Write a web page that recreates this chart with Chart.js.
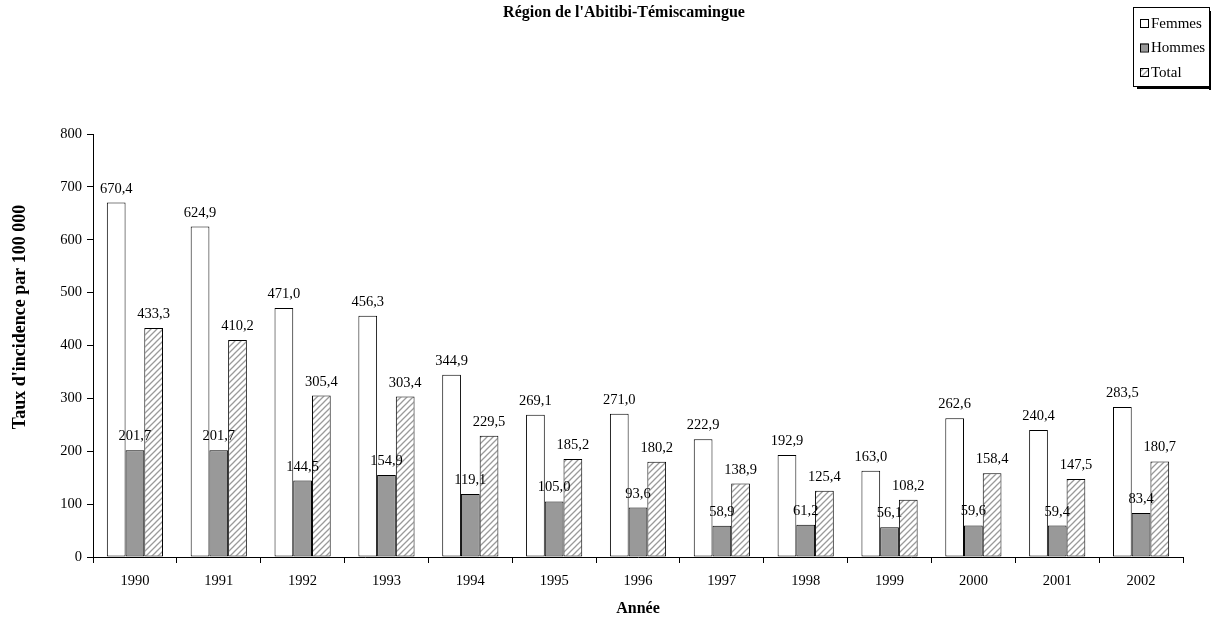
<!DOCTYPE html>
<html>
<head>
<meta charset="utf-8">
<script src="https://cdn.jsdelivr.net/npm/chart.js@4"></script>
<style>
  body { margin: 0; background: #fff; }
  #wrap { width: 1211px; height: 618px; }
</style>
</head>
<body>
<div id="wrap"><canvas id="incChart"></canvas></div>
<script>
const years = ["1990", "1991", "1992", "1993", "1994", "1995", "1996", "1997", "1998", "1999", "2000", "2001", "2002"];
const femmes = [670.4, 624.9, 471.0, 456.3, 344.9, 269.1, 271.0, 222.9, 192.9, 163.0, 262.6, 240.4, 283.5];
const hommes = [201.7, 201.7, 144.5, 154.9, 119.1, 105.0, 93.6, 58.9, 61.2, 56.1, 59.6, 59.4, 83.4];
const total = [433.3, 410.2, 305.4, 303.4, 229.5, 185.2, 180.2, 138.9, 125.4, 108.2, 158.4, 147.5, 180.7];
const yTicks = [0, 100, 200, 300, 400, 500, 600, 700, 800];

const serif = "'Liberation Serif', 'Times New Roman', serif";

// hatch pattern for Total
function makeHatch() {
  const c = document.createElement("canvas");
  c.width = 6; c.height = 6;
  const g = c.getContext("2d");
  g.fillStyle = "#fff";
  g.fillRect(0, 0, 6, 6);
  g.strokeStyle = "#9a9a9a";
  g.lineWidth = 1.3;
  g.beginPath();
  g.moveTo(0, 6); g.lineTo(6, 0);
  g.moveTo(-1, 1); g.lineTo(1, -1);
  g.moveTo(5, 7); g.lineTo(7, 5);
  g.stroke();
  return g.createPattern(c, "repeat");
}
const hatch = makeHatch();

const fmt = v => v.toFixed(1).replace(".", ",");

const valueLabels = {
  id: "valueLabels",
  afterDatasetsDraw(chart) {
    const ctx = chart.ctx;
    ctx.save();
    ctx.font = "14.5px " + serif;
    ctx.fillStyle = "#000";
    ctx.textAlign = "center";
    ctx.textBaseline = "alphabetic";
    chart.data.datasets.forEach((ds, i) => {
      chart.getDatasetMeta(i).data.forEach((bar, j) => {
        ctx.fillText(fmt(ds.data[j]), bar.x, bar.y - 10);
      });
    });
    ctx.restore();
  }
};

const extras = {
  id: "extras",
  afterDraw(chart) {
    const ctx = chart.ctx;
    ctx.save();
    // title
    ctx.font = "bold 16px " + serif;
    ctx.fillStyle = "#000";
    ctx.textAlign = "center";
    ctx.textBaseline = "middle";
    ctx.fillText("Région de l'Abitibi-Témiscamingue", 624, 13);

    // y axis title (sits a bit above the axis middle in the original)
    ctx.save();
    ctx.translate(20, 317);
    ctx.rotate(-Math.PI / 2);
    ctx.font = "bold 18px " + serif;
    ctx.fillText("Taux d'incidence par 100 000", 0, 0);
    ctx.restore();

    // legend box
    const bx = 1133, by = 7, bw = 76, bh = 79;
    ctx.fillStyle = "#000";
    ctx.fillRect(bx + 4, by + bh, bw, 3);
    ctx.fillRect(bx + bw, by + 4, 3, bh);
    ctx.fillStyle = "#fff";
    ctx.fillRect(bx, by, bw, bh);
    ctx.strokeStyle = "#000";
    ctx.lineWidth = 1;
    ctx.strokeRect(bx + 0.5, by + 0.5, bw, bh);
    ctx.font = "15px " + serif;
    ctx.textAlign = "left";
    chart.data.datasets.forEach((ds, i) => {
      const cy = 23 + i * 24.5;
      ctx.fillStyle = ds.backgroundColor;
      ctx.fillRect(1140, cy - 4, 8, 8);
      ctx.strokeRect(1140.5, cy - 3.5, 8, 8);
      ctx.fillStyle = "#000";
      ctx.fillText(ds.label, 1151, cy + 1);
    });
    ctx.restore();
  }
};

new Chart(document.getElementById("incChart"), {
  type: "bar",
  data: {
    labels: years,
    datasets: [
      { label: "Femmes", data: femmes, backgroundColor: "#ffffff" },
      { label: "Hommes", data: hommes, backgroundColor: "#999999" },
      { label: "Total", data: total, backgroundColor: hatch }
    ]
  },
  options: {
    responsive: true,
    maintainAspectRatio: false,
    animation: false,
    layout: { padding: { top: 134, right: 28, left: 0, bottom: 0 } },
    datasets: {
      bar: {
        borderColor: "#000",
        borderWidth: 1,
        borderSkipped: false,
        categoryPercentage: 0.67,
        barPercentage: 1.0
      }
    },
    plugins: {
      legend: { display: false },
      title: { display: false },
      tooltip: { enabled: false }
    },
    scales: {
      x: {
        afterFit: s => { s.height = 61; },
        grid: { offset: true, drawOnChartArea: false, tickLength: 6, color: "#000" },
        border: { color: "#000" },
        ticks: { color: "#000", padding: 9, font: { family: serif, size: 14.5 }, maxRotation: 0 },
        title: { display: true, text: "Année", color: "#000", padding: 0, font: { family: serif, size: 16, weight: "bold" } }
      },
      y: {
        min: 0,
        max: 800,
        afterFit: s => { s.width = 93; },
        afterBuildTicks: s => { s.ticks = yTicks.map(v => ({ value: v })); },
        grid: { drawOnChartArea: false, tickLength: 6, color: "#000" },
        border: { color: "#000" },
        ticks: { color: "#000", padding: 5, font: { family: serif, size: 14.5 } }
      }
    }
  },
  plugins: [valueLabels, extras]
});
</script>
</body>
</html>
